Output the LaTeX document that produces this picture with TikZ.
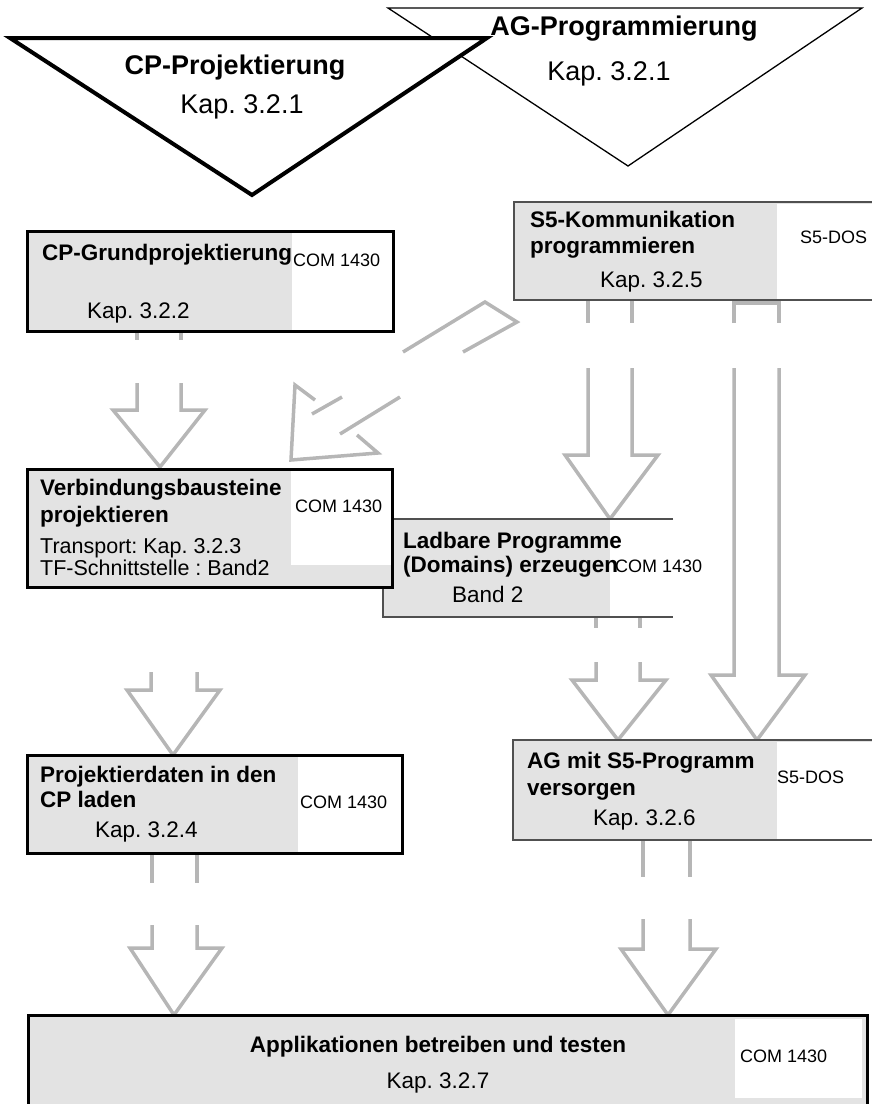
\documentclass[tikz,border=0pt]{standalone}
\usepackage{fontspec}
\setmainfont{Liberation Sans}
\frenchspacing
\definecolor{boxgray}{HTML}{E3E3E3}
\definecolor{flowgray}{HTML}{B6B6B6}
\definecolor{thinline}{HTML}{505050}
\tikzset{
  boxtitle/.style={font=\fontsize{22.5}{26}\selectfont\bfseries, anchor=base west, inner sep=0pt},
  boxtext/.style={font=\fontsize{22.5}{26}\selectfont, anchor=base west, inner sep=0pt},
  smalltext/.style={font=\fontsize{21.5}{24}\selectfont, anchor=base west, inner sep=0pt},
  tooltext/.style={font=\fontsize{18}{20}\selectfont, anchor=base west, inner sep=0pt},
  headtitle/.style={font=\fontsize{27}{30}\selectfont\bfseries, anchor=base, inner sep=0pt},
  headtext/.style={font=\fontsize{27}{30}\selectfont, anchor=base, inner sep=0pt},
  thickframe/.style={draw=black, line width=3pt},
  thinframe/.style={draw=thinline, line width=1.5pt},
  flow/.style={draw=flowgray, line width=3.5pt, line join=miter},
}
\begin{document}
\begin{tikzpicture}[x=1pt,y=-1pt]
\useasboundingbox (0,0) rectangle (872,1104);
\begin{scope}
\clip (0,0) rectangle (872,1104);

% phase triangles
\draw[line width=1.3pt, fill=white] (388,8) -- (862,8) -- (628,166) -- cycle;
\draw[line width=4pt, fill=white] (10,38) -- (487,38) -- (252,195) -- cycle;
\node[headtitle] (cpproj) at (235,74) {CP-Projektierung};
\node[headtext]  (cpprojk) at (242,113) {Kap. 3.2.1};
\node[headtitle] (agprog) at (624,35) {AG-Programmierung};
\node[headtext]  (agprogk) at (609,80) {Kap. 3.2.1};

% block arrows (outline only, partly interrupted)
% CP-Grundprojektierung -> Verbindungsbausteine
\draw[flow] (137,331) -- (137,340) (181,331) -- (181,340);
\draw[flow] (137,383) -- (137,410) -- (113,410) -- (160,467) -- (205,410) -- (181,410) -- (181,383);
% S5-Kommunikation -> Ladbare Programme
\draw[flow] (588,300) -- (588,323) (632,300) -- (632,323);
\draw[flow] (588,368) -- (588,455) -- (565,455) -- (610,519) -- (658,455) -- (632,455) -- (632,368);
% S5-Kommunikation -> AG mit S5-Programm
\draw[flow] (734,323) -- (734,303) -- (779,303) -- (779,323);
\draw[flow] (734,368) -- (734,675) -- (711,675) -- (757,740) -- (805,675) -- (779,675) -- (779,368);
% Ladbare Programme -> AG mit S5-Programm
\draw[flow] (596,617) -- (596,628) (640,617) -- (640,628);
\draw[flow] (596,662) -- (596,680) -- (572,680) -- (618,740) -- (666,680) -- (640,680) -- (640,662);
% Verbindungsbausteine -> Projektierdaten
\draw[flow] (151,672) -- (151,690) -- (127,690) -- (173,755) -- (220,690) -- (197,690) -- (197,672);
% Projektierdaten -> Applikationen
\draw[flow] (152,853) -- (152,883) (197,853) -- (197,883);
\draw[flow] (152,925) -- (152,948) -- (130,948) -- (174,1015) -- (222,948) -- (197,948) -- (197,925);
% AG mit S5-Programm -> Applikationen
\draw[flow] (643,840) -- (643,877) (690,840) -- (690,877);
\draw[flow] (643,919) -- (643,949) -- (621,949) -- (668,1015) -- (716,949) -- (690,949) -- (690,919);
% S5-Kommunikation -> Verbindungsbausteine (diagonal)
\draw[flow] (403,352) -- (485,302) -- (517,322) -- (463,352);
\draw[flow] (342,397) -- (312,414);
\draw[flow] (400,397) -- (340,434);
\draw[flow] (315,400) -- (295,385) -- (291,460) -- (378,453) -- (357,435);

% CP-Grundprojektierung
\fill[boxgray] (27,231) rectangle (393,331);
\fill[white] (292,231) rectangle (393,331);
\draw[thickframe] (27,231) rectangle (393,331);
\node[boxtitle] (cpg1) at (42,260) {CP-Grundprojektierung};
\node[tooltext] (cpgt) at (293,266) {COM 1430};
\node[boxtext]  (cpgk) at (87,318) {Kap. 3.2.2};

% S5-Kommunikation programmieren
\fill[boxgray] (514,202) rectangle (880,300);
\fill[white] (777,204) rectangle (880,300);
\draw[thinframe] (514,202) rectangle (880,300);
\node[boxtitle] (s5k1) at (530,227) {S5-Kommunikation};
\node[boxtitle] (s5k2) at (530,253) {programmieren};
\node[boxtext]  (s5kk) at (600,287) {Kap. 3.2.5};
\node[tooltext] (s5kt) at (800,243) {S5-DOS};

% Ladbare Programme (Domains) erzeugen
\fill[boxgray] (383,519) rectangle (673,617);
\fill[white] (610,519) rectangle (673,617);
\draw[thinframe] (673,519) -- (383,519) -- (383,617) -- (673,617);
\node[boxtitle] (lad1) at (403,548) {Ladbare Programme};
\node[boxtitle] (lad2) at (403,572) {(Domains) erzeugen};
\node[tooltext] (ladt) at (615,572) {COM 1430};
\node[boxtext]  (ladk) at (452,602) {Band 2};

% Verbindungsbausteine projektieren
\fill[boxgray] (27,469) rectangle (392,587);
\fill[white] (291,469) rectangle (392,565);
\draw[thickframe] (27,469) rectangle (392,587);
\node[boxtitle] (vb1) at (40,495) {Verbindungsbausteine};
\node[boxtitle] (vb2) at (40,522) {projektieren};
\node[smalltext] (vb3) at (40,553) {Transport: Kap. 3.2.3};
\node[smalltext] (vb4) at (40,575) {TF-Schnittstelle : Band2};
\node[tooltext] (vbt) at (295,512) {COM 1430};

% Projektierdaten in den CP laden
\fill[boxgray] (27,755) rectangle (402,853);
\fill[white] (298,755) rectangle (402,853);
\draw[thickframe] (27,755) rectangle (402,853);
\node[boxtitle] (pd1) at (40,782) {Projektierdaten in den};
\node[boxtitle] (pd2) at (40,807) {CP laden};
\node[boxtext]  (pdk) at (95,837) {Kap. 3.2.4};
\node[tooltext] (pdt) at (300,808) {COM 1430};

% AG mit S5-Programm versorgen
\fill[boxgray] (513,740) rectangle (880,840);
\fill[white] (777,742) rectangle (880,840);
\draw[thinframe] (513,740) rectangle (880,840);
\node[boxtitle] (ag1) at (527,768) {AG mit S5-Programm};
\node[boxtitle] (ag2) at (527,795) {versorgen};
\node[boxtext]  (agk) at (593,825) {Kap. 3.2.6};
\node[tooltext] (agt) at (777,783) {S5-DOS};

% Applikationen betreiben und testen
\fill[boxgray] (28,1015) rectangle (867,1120);
\fill[white] (735,1019) rectangle (862,1098);
\draw[thickframe] (28,1015) rectangle (867,1120);
\node[boxtitle, anchor=base] (app1) at (438,1052) {Applikationen betreiben und testen};
\node[boxtext, anchor=base]  (appk) at (438,1088) {Kap. 3.2.7};
\node[tooltext] (appt) at (740,1062) {COM 1430};
\end{scope}
\end{tikzpicture}
\end{document}
